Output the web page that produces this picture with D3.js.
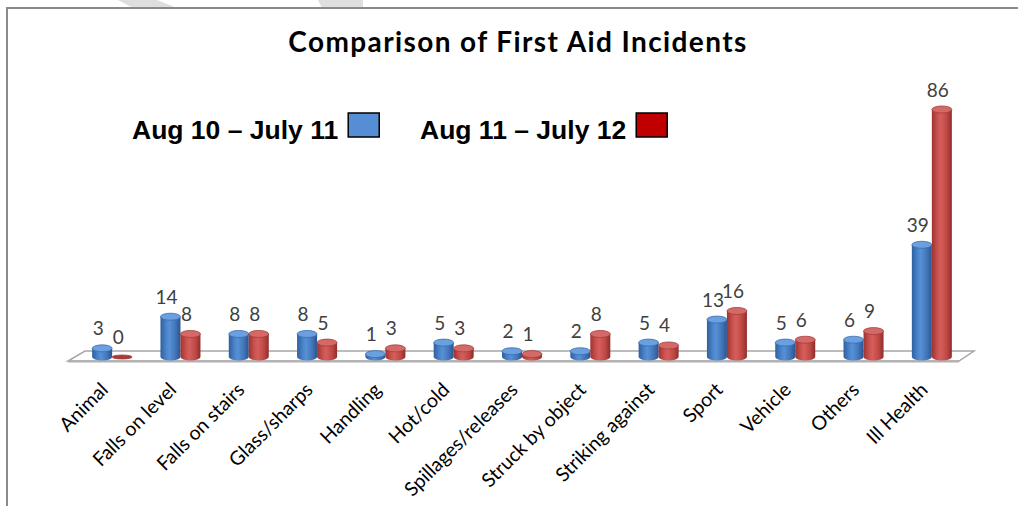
<!DOCTYPE html>
<html>
<head>
<meta charset="utf-8">
<script src="https://cdn.jsdelivr.net/npm/d3@7"></script>
<style>
  body { margin: 0; background: #fff; }
  svg { display: block; }
</style>
</head>
<body>
<script>
// chart data
var categories = ["Animal", "Falls on level", "Falls on stairs", "Glass/sharps", "Handling", "Hot/cold",
  "Spillages/releases", "Struck by object", "Striking against", "Sport", "Vehicle", "Others", "Ill Health"];
var seriesNames = ["Aug 10 \u2013 July 11", "Aug 11 \u2013 July 12"];
var series2011 = [3, 14, 8, 8, 1, 5, 2, 2, 5, 13, 5, 6, 39];
var series2012 = [0, 8, 8, 5, 3, 3, 1, 8, 4, 16, 6, 9, 86];

var W = 1019, H = 506;
var barW = 20;   // diameter of each cylinder
var ry = 3.5;    // ellipse height of cylinder caps

var svg = d3.select("body").append("svg")
  .attr("width", W)
  .attr("height", H);

var defs = svg.append("defs");

// horizontal gradients to fake the round cylinder look
function cylGradient(id, stops) {
  var g = defs.append("linearGradient").attr("id", id)
    .attr("x1", "0%").attr("x2", "100%").attr("y1", "0%").attr("y2", "0%");
  stops.forEach(function(s) {
    g.append("stop").attr("offset", s[0]).attr("stop-color", s[1]);
  });
}
cylGradient("blueBody", [["0%", "#2f5f9e"], ["30%", "#4c85cc"], ["45%", "#5690d6"], ["75%", "#4275b8"], ["100%", "#2a5590"]]);
cylGradient("redBody", [["0%", "#9c3432"], ["30%", "#cc5350"], ["45%", "#d45e5b"], ["75%", "#bf4845"], ["100%", "#8e2d2b"]]);
var colors = [
  { body: "url(#blueBody)", top: "#6a9fe0", rim: "#3b6cae" },
  { body: "url(#redBody)", top: "#d46a67", rim: "#a63c39" }
];

// faint watermark pieces above the frame
svg.append("path").attr("d", "M118,0 L157,0 L177,8 L133,8 Z").attr("fill", "#dedede");
svg.append("path").attr("d", "M318,0 L363,0 L363,8 Q340,9 322,8 Z").attr("fill", "#dedede");

// frame
svg.append("path")
  .attr("d", "M7," + H + " L7,8 L" + (W - 1) + ",8")
  .attr("fill", "none")
  .attr("stroke", "#8a8a8a")
  .attr("stroke-width", 2);

// title
svg.append("text")
  .attr("x", 518).attr("y", 52)
  .attr("text-anchor", "middle")
  .style("font-family", "Lato, 'Open Sans', sans-serif")
  .style("font-weight", "bold")
  .style("font-size", "28px")
  .style("letter-spacing", "1.4px")
  .attr("fill", "#000")
  .text("Comparison of First Aid Incidents");

// scales
var xScale = d3.scaleBand()
  .domain(categories)
  .range([78, 966])
  .padding(0);
var xSub = d3.scaleBand()
  .domain([0, 1])
  .range([-barW, barW]);
var yScale = d3.scaleLinear()
  .domain([0, 86])
  .range([357, 109.5]);

var x0 = xScale.range()[0], x1 = xScale.range()[1];
var base = yScale(0);

// floor of the 3D plot
var graph = svg.append("g");
graph.append("path")
  .attr("d", "M" + (x0 + 7) + "," + (base - 6) + " L" + (x1 + 8) + "," + (base - 6) +
    " L" + (x1 - 7) + "," + (base + 4) + " L" + (x0 - 10) + "," + (base + 4) + " Z")
  .attr("fill", "#fff")
  .attr("stroke", "#a6a6a6")
  .attr("stroke-width", 1.5);
graph.append("line")
  .attr("x1", x0 - 10).attr("x2", x1 - 7)
  .attr("y1", base + 4.5).attr("y2", base + 4.5)
  .attr("stroke", "#b0b0b0")
  .attr("stroke-width", 2);

// build one flat list of bars
var bars = [];
categories.forEach(function(c, i) {
  [series2011, series2012].forEach(function(s, k) {
    bars.push({ cat: c, k: k, v: s[i] });
  });
});

function cx(d) { return xScale(d.cat) + xScale.bandwidth() / 2 + xSub(d.k) + xSub.bandwidth() / 2; }

var cyl = graph.selectAll(".cyl").data(bars).enter().append("g").attr("class", "cyl");

// body
cyl.filter(function(d) { return d.v > 0; }).append("path")
  .attr("d", function(d) {
    var l = cx(d) - barW / 2, r = cx(d) + barW / 2, t = yScale(d.v);
    return "M" + l + "," + t + " L" + l + "," + base +
      " A" + (barW / 2) + "," + ry + " 0 0 0 " + r + "," + base +
      " L" + r + "," + t + " Z";
  })
  .attr("fill", function(d) { return colors[d.k].body; });

// top cap
cyl.append("ellipse")
  .attr("cx", cx)
  .attr("cy", function(d) { return yScale(d.v); })
  .attr("rx", barW / 2)
  .attr("ry", function(d) { return d.v > 0 ? ry : 2; })
  .attr("fill", function(d) { return d.v > 0 ? colors[d.k].top : colors[d.k].rim; })
  .attr("stroke", function(d) { return colors[d.k].rim; })
  .attr("stroke-width", 0.8);

// value labels
graph.selectAll(".val").data(bars).enter().append("text")
  .attr("class", "val")
  .attr("x", function(d) { return cx(d) - 4; })
  .attr("y", function(d) { return yScale(d.v) - 13; })
  .attr("text-anchor", "middle")
  .style("font-family", "Lato, 'Open Sans', sans-serif")
  .style("font-size", "19px")
  .attr("fill", "#404040")
  .text(function(d) { return d.v; });

// category labels, rotated
graph.selectAll(".cat").data(categories).enter().append("text")
  .attr("class", "cat")
  .attr("text-anchor", "end")
  .attr("transform", function(c) {
    return "translate(" + (xScale(c) + xScale.bandwidth() / 2 - 3) + "," + 391 + ") rotate(-45)";
  })
  .style("font-family", "Lato, 'Open Sans', sans-serif")
  .style("font-size", "19.5px")
  .attr("fill", "#000")
  .text(function(c) { return c; });

// legend
var legendX = [132, 420];
var legendFill = ["#558ed5", "#c00000"];
seriesNames.forEach(function(name, k) {
  var t = svg.append("text")
    .attr("x", legendX[k]).attr("y", 139)
    .style("font-family", "'Liberation Sans', Arial, sans-serif")
    .style("font-weight", "bold")
    .style("font-size", "26.5px")
    .attr("fill", "#000")
    .text(name);
  var len = t.node().getComputedTextLength();
  svg.append("rect")
    .attr("x", legendX[k] + len + 10).attr("y", 113)
    .attr("width", 31).attr("height", 24)
    .attr("fill", legendFill[k])
    .attr("stroke", "#000")
    .attr("stroke-width", 1.5);
});
</script>
</body>
</html>
